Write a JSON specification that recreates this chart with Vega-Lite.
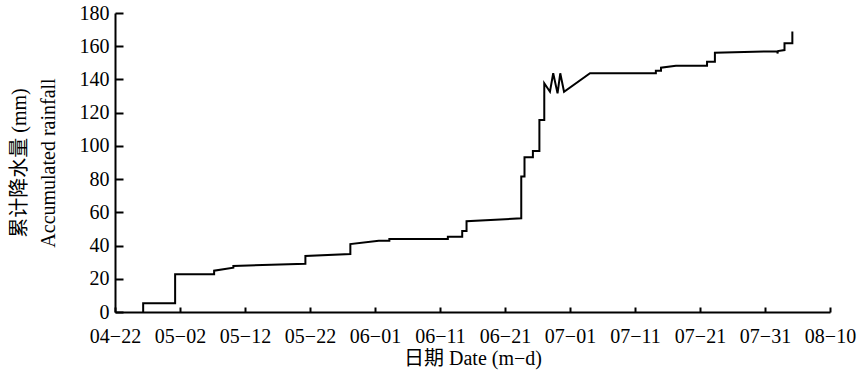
{
  "$schema": "https://vega.github.io/schema/vega-lite/v6.json",
  "width": 715,
  "height": 299,
  "autosize": {"type": "none"},
  "padding": {"left": 115, "top": 13, "right": 27, "bottom": 71},
  "background": "white",
  "config": {
    "view": {"stroke": null},
    "axis": {
      "domainColor": "black",
      "domainWidth": 2,
      "tickColor": "black",
      "tickWidth": 2,
      "labelColor": "black",
      "titleColor": "black",
      "labelFont": "Liberation Serif",
      "titleFont": "Liberation Serif, Noto Sans CJK SC",
      "labelFontSize": 20,
      "titleFontSize": 20,
      "titleFontWeight": "normal",
      "grid": false
    }
  },
  "data": {
    "values": [
      {"date": "2013-04-26T08:00", "rain": 0},
      {"date": "2013-04-26T08:00", "rain": 5.2},
      {"date": "2013-05-01T06:00", "rain": 5.2},
      {"date": "2013-05-01T06:00", "rain": 22.7},
      {"date": "2013-05-07T06:00", "rain": 22.7},
      {"date": "2013-05-07T06:00", "rain": 24.9},
      {"date": "2013-05-10T05:00", "rain": 26.7},
      {"date": "2013-05-10T05:00", "rain": 27.7},
      {"date": "2013-05-21T07:00", "rain": 29.1},
      {"date": "2013-05-21T07:00", "rain": 33.7},
      {"date": "2013-05-28T05:00", "rain": 34.9},
      {"date": "2013-05-28T05:00", "rain": 40.9},
      {"date": "2013-06-01T14:00", "rain": 42.9},
      {"date": "2013-06-03T05:00", "rain": 42.9},
      {"date": "2013-06-03T05:00", "rain": 43.9},
      {"date": "2013-06-12T05:00", "rain": 43.9},
      {"date": "2013-06-12T05:00", "rain": 45.3},
      {"date": "2013-06-14T10:00", "rain": 45.3},
      {"date": "2013-06-14T10:00", "rain": 48.8},
      {"date": "2013-06-15T02:00", "rain": 48.8},
      {"date": "2013-06-15T02:00", "rain": 54.6},
      {"date": "2013-06-23T12:00", "rain": 56.4},
      {"date": "2013-06-23T12:00", "rain": 81.5},
      {"date": "2013-06-24T00:00", "rain": 81.5},
      {"date": "2013-06-24T00:00", "rain": 93.1},
      {"date": "2013-06-25T07:00", "rain": 93.1},
      {"date": "2013-06-25T07:00", "rain": 96.9},
      {"date": "2013-06-26T07:00", "rain": 96.9},
      {"date": "2013-06-26T07:00", "rain": 115.6},
      {"date": "2013-06-27T01:00", "rain": 115.6},
      {"date": "2013-06-27T01:00", "rain": 137.7},
      {"date": "2013-06-27T22:00", "rain": 132.6},
      {"date": "2013-06-28T10:00", "rain": 143.7},
      {"date": "2013-06-29T02:00", "rain": 131.6},
      {"date": "2013-06-29T12:00", "rain": 143.7},
      {"date": "2013-06-30T02:00", "rain": 132.6},
      {"date": "2013-07-04T02:00", "rain": 143.7},
      {"date": "2013-07-14T05:00", "rain": 143.7},
      {"date": "2013-07-14T05:00", "rain": 145.3},
      {"date": "2013-07-15T00:00", "rain": 145.3},
      {"date": "2013-07-15T00:00", "rain": 147.1},
      {"date": "2013-07-17T07:00", "rain": 148.3},
      {"date": "2013-07-22T02:00", "rain": 148.3},
      {"date": "2013-07-22T02:00", "rain": 150.7},
      {"date": "2013-07-23T07:00", "rain": 150.7},
      {"date": "2013-07-23T07:00", "rain": 156.1},
      {"date": "2013-08-01T22:00", "rain": 157.0},
      {"date": "2013-08-01T22:00", "rain": 155.6},
      {"date": "2013-08-02T00:00", "rain": 157.1},
      {"date": "2013-08-03T00:00", "rain": 157.7},
      {"date": "2013-08-03T00:00", "rain": 161.8},
      {"date": "2013-08-04T05:00", "rain": 161.8},
      {"date": "2013-08-04T05:00", "rain": 168.8}
    ]
  },
  "mark": {"type": "line", "color": "black", "strokeWidth": 2},
  "encoding": {
    "x": {
      "field": "date",
      "type": "temporal",
      "scale": {"domain": [{"year": 2013, "month": 4, "date": 22}, {"year": 2013, "month": 8, "date": 10}]},
      "axis": {
        "title": "日期 Date (m−d)",
        "values": [
          {"year": 2013, "month": 4, "date": 22},
          {"year": 2013, "month": 5, "date": 2},
          {"year": 2013, "month": 5, "date": 12},
          {"year": 2013, "month": 5, "date": 22},
          {"year": 2013, "month": 6, "date": 1},
          {"year": 2013, "month": 6, "date": 11},
          {"year": 2013, "month": 6, "date": 21},
          {"year": 2013, "month": 7, "date": 1},
          {"year": 2013, "month": 7, "date": 11},
          {"year": 2013, "month": 7, "date": 21},
          {"year": 2013, "month": 7, "date": 31},
          {"year": 2013, "month": 8, "date": 10}
        ],
        "labelExpr": "replace(timeFormat(datum.value, '%m-%d'), '-', '−')",
        "labelFlush": false,
        "labelOverlap": false,
        "labelAngle": 0,
        "tickSize": -5,
        "labelPadding": 19,
        "titlePadding": 2
      }
    },
    "y": {
      "field": "rain",
      "type": "quantitative",
      "scale": {"domain": [0, 180]},
      "axis": {
        "title": ["累计降水量 (mm)", "Accumulated rainfall"],
        "values": [0, 20, 40, 60, 80, 100, 120, 140, 160, 180],
        "tickSize": -8,
        "labelPadding": 14,
        "titlePadding": 21,
        "titleLineHeight": 29
      }
    },
    "order": {"value": null}
  }
}
